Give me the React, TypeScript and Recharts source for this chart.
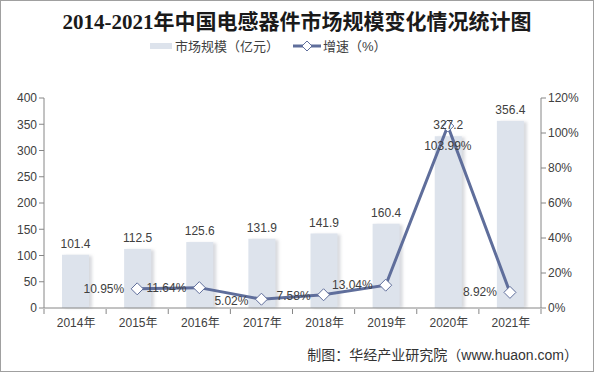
import React from 'react';
import { ComposedChart, Bar, Line, XAxis, YAxis, LabelList, Legend } from 'recharts';

const years = ['2014年', '2015年', '2016年', '2017年', '2018年', '2019年', '2020年', '2021年'];
const marketSize = [101.4, 112.5, 125.6, 131.9, 141.9, 160.4, 327.2, 356.4];
const growthRate: (number | null)[] = [null, 10.95, 11.64, 5.02, 7.58, 13.04, 103.99, 8.92];
const leftTicks = [0, 50, 100, 150, 200, 250, 300, 350, 400];
const rightTicks = [0, 20, 40, 60, 80, 100, 120];

const data = years.map((y, i) => ({ year: y, size: marketSize[i], rate: growthRate[i] }));

const BAR_COLOR = '#dde3ec';
const LINE_COLOR = '#5f6e9b';
const AXIS_COLOR = '#868686';
const TEXT_COLOR = '#404040';
const FONT = '"Liberation Sans", Arial, "Noto Sans CJK SC", sans-serif';

const BarShape = (props: any) => {
  const { x, y, width, height } = props;
  if (height == null || height <= 0) return null;
  return (
    <g>
      <rect x={x + 3} y={y + 1} width={width} height={height - 1} fill="#b9bcc4" opacity={0.55} filter="url(#barBlur)" />
      <rect x={x} y={y} width={width} height={height} fill={BAR_COLOR} />
    </g>
  );
};

const Diamond = (props: any) => {
  const { cx, cy, value } = props;
  if (value == null || cx == null || cy == null) return null;
  const r = 6;
  return (
    <path
      d={`M${cx},${cy - r} L${cx + r},${cy} L${cx},${cy + r} L${cx - r},${cy} Z`}
      fill="#ffffff"
      stroke={LINE_COLOR}
      strokeWidth={1}
    />
  );
};

const RateLabel = (props: any) => {
  const { x, y, value, index } = props;
  if (value == null) return null;
  const text = `${value.toFixed(2)}%`;
  if (index === 6) {
    return (
      <text x={x} y={y + 24} textAnchor="middle" fontSize={12} fill={TEXT_COLOR} fontFamily={FONT}>
        {text}
      </text>
    );
  }
  const dy = index === 3 ? 6 : index === 4 ? 5 : 4;
  return (
    <text x={x - 13} y={y + dy} textAnchor="end" fontSize={12} fill={TEXT_COLOR} fontFamily={FONT}>
      {text}
    </text>
  );
};

const HALF_BAND = 497 / 8 / 2;

const XTick = (props: any) => {
  const { x, y, payload, index } = props;
  const axisY = y - 7;
  return (
    <g>
      <line x1={x - HALF_BAND} y1={axisY} x2={x - HALF_BAND} y2={axisY + 5} stroke={AXIS_COLOR} />
      {index === years.length - 1 && (
        <line x1={x + HALF_BAND} y1={axisY} x2={x + HALF_BAND} y2={axisY + 5} stroke={AXIS_COLOR} />
      )}
      <text x={x + 1} y={y + 11} textAnchor="middle" fontSize={12} fill={TEXT_COLOR} fontFamily={FONT}>
        {payload.value}
      </text>
    </g>
  );
};

const LegendContent = () => (
  <div
    style={{
      display: 'flex',
      justifyContent: 'flex-start',
      alignItems: 'center',
      fontFamily: FONT,
      fontSize: 13,
      color: TEXT_COLOR,
      paddingLeft: 150,
    }}
  >
    <span style={{ display: 'inline-block', width: 22, height: 6, background: BAR_COLOR, marginRight: 3 }} />
    <span>市场规模（亿元）</span>
    <svg width={28} height={12} style={{ marginLeft: 14, marginRight: 2 }}>
      <line x1={0} y1={6} x2={28} y2={6} stroke={LINE_COLOR} strokeWidth={3} />
      <path d="M14,1 L19,6 L14,11 L9,6 Z" fill="#fff" stroke={LINE_COLOR} strokeWidth={1} />
    </svg>
    <span>增速（%）</span>
  </div>
);

export default function App() {
  return (
    <div
      style={{
        position: 'absolute',
        left: 0,
        top: 0,
        width: 594,
        height: 372,
        background: '#ffffff',
        overflow: 'hidden',
      }}
    >
      <div
        style={{
          position: 'absolute',
          left: 0,
          top: 0,
          width: 592,
          height: 370,
          border: '1px solid #a0a0a0',
          pointerEvents: 'none',
          zIndex: 2,
        }}
      />
      <div
        style={{
          position: 'absolute',
          left: 0,
          top: 8,
          width: 594,
          textAlign: 'center',
          fontFamily: '"Liberation Serif", "Noto Sans CJK SC", serif',
          fontWeight: 'bold',
          fontSize: 21,
          color: '#1a1a1a',
          lineHeight: '28px',
        }}
      >
        2014-2021年中国电感器件市场规模变化情况统计图
      </div>
      <div
        style={{
          position: 'absolute',
          left: 0,
          top: 345,
          width: 578,
          textAlign: 'right',
          fontFamily: FONT,
          fontSize: 14,
          color: '#333333',
          lineHeight: '20px',
        }}
      >
        制图：华经产业研究院（www.huaon.com）
      </div>
      <ComposedChart
        width={594}
        height={372}
        data={data}
        margin={{ top: 79, right: 0, bottom: 44, left: 0 }}
      >
        <defs>
          <filter id="barBlur" x="-20%" y="-5%" width="140%" height="110%">
            <feGaussianBlur stdDeviation="1.5" />
          </filter>
        </defs>
        <Legend
          verticalAlign="top"
          align="left"
          content={<LegendContent />}
          wrapperStyle={{ top: 36, left: 0, width: 594 }}
        />
        <XAxis
          dataKey="year"
          stroke={AXIS_COLOR}
          tickLine={false}
          tick={<XTick />}
          height={20}
          interval={0}
        />
        <YAxis
          yAxisId="left"
          orientation="left"
          width={44}
          domain={[0, 400]}
          ticks={leftTicks}
          stroke={AXIS_COLOR}
          tickSize={5}
          tick={{ fill: TEXT_COLOR, fontSize: 12, fontFamily: FONT }}
          interval={0}
        />
        <YAxis
          yAxisId="right"
          orientation="right"
          width={53}
          domain={[0, 120]}
          ticks={rightTicks}
          stroke={AXIS_COLOR}
          tickSize={5}
          tickFormatter={(v: number) => `${v}%`}
          tick={{ fill: TEXT_COLOR, fontSize: 12, fontFamily: FONT }}
          interval={0}
        />
        <Bar
          yAxisId="left"
          dataKey="size"
          fill={BAR_COLOR}
          barSize={27}
          shape={<BarShape />}
          isAnimationActive={false}
        >
          <LabelList
            dataKey="size"
            position="top"
            offset={7}
            fontSize={12}
            fill={TEXT_COLOR}
            fontFamily={FONT}
            formatter={(v: any) => Number(v).toFixed(1)}
          />
        </Bar>
        <Line
          yAxisId="right"
          dataKey="rate"
          stroke={LINE_COLOR}
          strokeWidth={3}
          dot={<Diamond />}
          activeDot={false}
          connectNulls={false}
          isAnimationActive={false}
        >
          <LabelList dataKey="rate" content={<RateLabel />} />
        </Line>
      </ComposedChart>
    </div>
  );
}
